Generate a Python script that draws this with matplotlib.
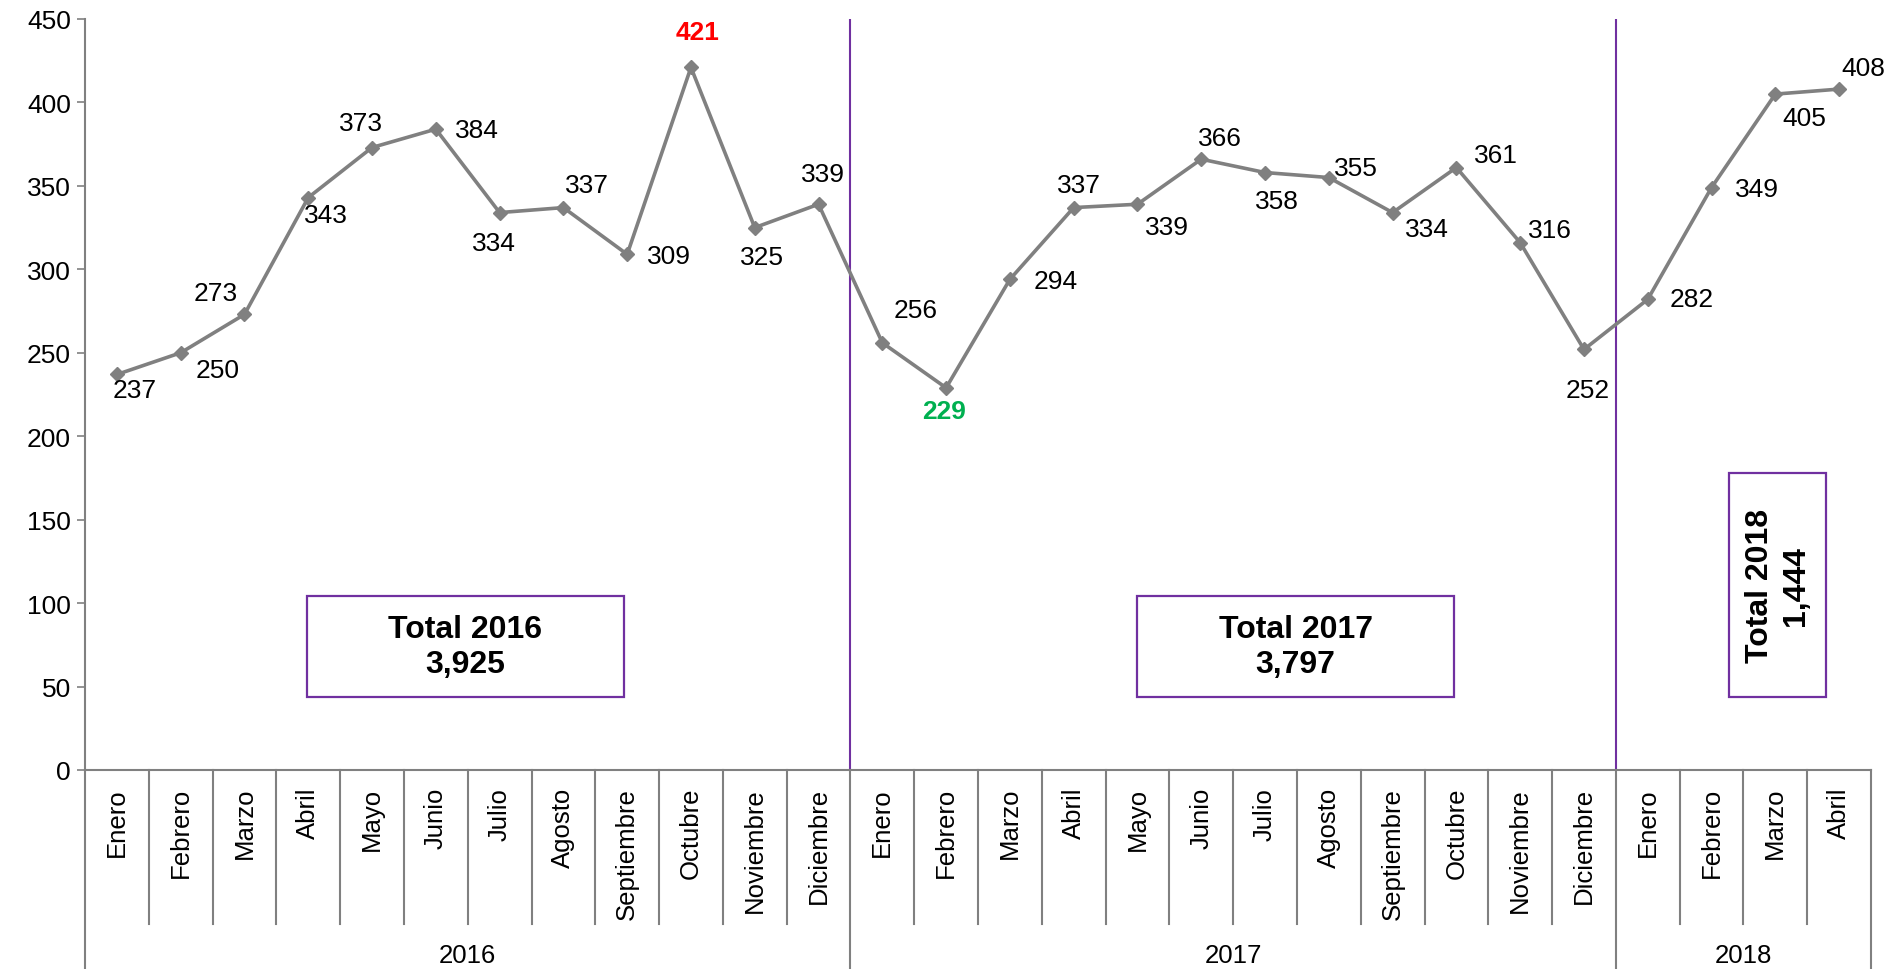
import matplotlib
matplotlib.use("Agg")
import matplotlib.pyplot as plt
from matplotlib.patches import Rectangle
from matplotlib.transforms import blended_transform_factory

plt.rcParams['font.family'] = ['Liberation Sans', 'DejaVu Sans']

# ---- data ----
months_2016 = ["Enero", "Febrero", "Marzo", "Abril", "Mayo", "Junio", "Julio",
               "Agosto", "Septiembre", "Octubre", "Noviembre", "Diciembre"]
months_2017 = list(months_2016)
months_2018 = ["Enero", "Febrero", "Marzo", "Abril"]
values_2016 = [237, 250, 273, 343, 373, 384, 334, 337, 309, 421, 325, 339]
values_2017 = [256, 229, 294, 337, 339, 366, 358, 355, 334, 361, 316, 252]
values_2018 = [282, 349, 405, 408]
years = ["2016", "2017", "2018"]
totals = ["3,925", "3,797", "1,444"]
y_ticks = [0, 50, 100, 150, 200, 250, 300, 350, 400, 450]

months = months_2016 + months_2017 + months_2018
values = values_2016 + values_2017 + values_2018
group_sizes = [len(months_2016), len(months_2017), len(months_2018)]

# label offsets in pixels (dx, dy)
label_offsets = [(18, -16), (37, -17), (-29, 21), (18, -17), (-11, 25), (41, -1),
                 (-6, -30), (24, 23), (42, -2), (7, 35), (7, -29), (4, 30),
                 (33, 33), (-2, -23), (46, -2), (5, 23), (30, -23), (19, 21),
                 (12, -28), (27, 10), (34, -16), (40, 13), (30, 13), (4, -41),
                 (44, 0), (45, -1), (29, -24), (24, 21)]

W, H = 1897, 970
fig = plt.figure(figsize=(W / 100, H / 100), dpi=100)
ax = fig.add_axes([85 / W, 1 - 771 / H, (1871 - 85) / W, (771 - 20) / H])

grey = "#808080"
purple = "#7030A0"
x = list(range(len(values)))
ax.plot(x, values, color=grey, lw=2.6, marker="D", ms=7, mec=grey, mfc=grey, zorder=3)

ax.set_xlim(-0.5, len(values) - 0.5)
ax.set_ylim(0, 450)
ax.set_yticks(y_ticks)
ax.tick_params(axis="y", labelsize=19, length=6, color=grey, width=1.2, pad=4)
ax.set_xticks([])
for s in ["top", "right"]:
    ax.spines[s].set_visible(False)
ax.spines["left"].set_color(grey)
ax.spines["bottom"].set_color(grey)
ax.spines["left"].set_linewidth(1.5)
ax.spines["bottom"].set_linewidth(1.5)

# data labels
min_i = values.index(min(values))
max_i = values.index(max(values))
for i, (v, (dx, dy)) in enumerate(zip(values, label_offsets)):
    kw = dict(fontsize=19, color="black")
    if i == max_i:
        kw = dict(fontsize=19, color="#FF0000", fontweight="bold")
    elif i == min_i:
        kw = dict(fontsize=19, color="#00B050", fontweight="bold")
    ax.annotate(str(v), (i, v), xytext=(dx * 0.72, dy * 0.72), textcoords="offset points",
                ha="center", va="center", **kw)

# year separators (purple)
bounds = [0]
for g in group_sizes:
    bounds.append(bounds[-1] + g)
for b in bounds[1:-1]:
    ax.plot([b - 0.5, b - 0.5], [0, 450], color=purple, lw=1.5, zorder=2)

# multi-level category axis
tr = blended_transform_factory(ax.transData, fig.transFigure)
y_axis = 1 - 771 / H
y_month_end = 1 - 925 / H
y_bottom = 0.0
for i in range(len(months) + 1):
    xb = i - 0.5
    if i in bounds:
        ax.plot([xb, xb], [y_axis, y_bottom], transform=tr, color=grey, lw=1.5, clip_on=False)
    else:
        ax.plot([xb, xb], [y_axis, y_month_end], transform=tr, color=grey, lw=1.5, clip_on=False)
for i, m in enumerate(months):
    ax.text(i, 1 - 788 / H, m, transform=tr, rotation=90, ha="center", va="top", fontsize=18.5)
for k, yr in enumerate(years):
    xc = (bounds[k] + bounds[k + 1] - 1) / 2
    ax.text(xc, 1 - 956 / H, yr, transform=tr, ha="center", va="center", fontsize=18.5)

# total boxes
box_specs = [(2.98, 44, 4.97, 60, 0), (15.99, 44, 4.98, 60, 0), (25.28, 44, 1.52, 134, 90)]
for k, (bx, by, bw, bh, rot) in enumerate(box_specs):
    ax.add_patch(Rectangle((bx, by), bw, bh, fill=False, ec=purple, lw=1.6, zorder=4))
    ax.text(bx + bw / 2, by + bh / 2, f"Total {years[k]}\n{totals[k]}", ha="center", va="center",
            fontsize=23, fontweight="bold", rotation=rot, linespacing=1.25, zorder=5)

fig.savefig("out.png", dpi=100)
